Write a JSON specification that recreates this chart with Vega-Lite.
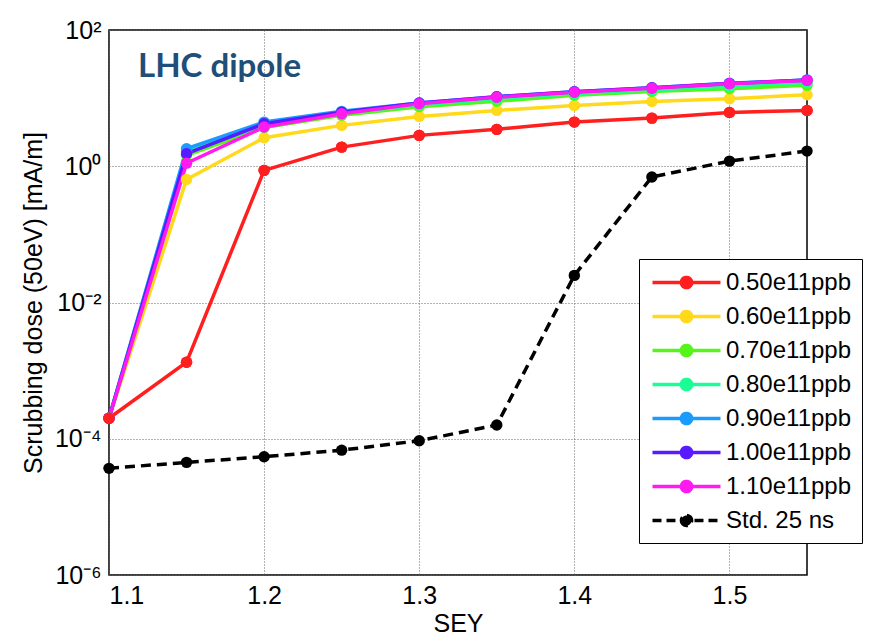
{
  "$schema": "https://vega.github.io/schema/vega-lite/v6.json",
  "width": 698,
  "height": 545,
  "autosize": {"type": "none"},
  "padding": {"left": 109, "top": 30, "right": 80, "bottom": 63},
  "background": "white",
  "title": {
    "text": "LHC dipole",
    "anchor": "start",
    "frame": "group",
    "orient": "top",
    "offset": 0,
    "baseline": "alphabetic",
    "dx": 29,
    "dy": 92,
    "font": "Lato",
    "fontSize": 33,
    "fontWeight": "bold",
    "color": "#1f4e79"
  },
  "config": {
    "view": {"stroke": "black", "strokeWidth": 1.5},
    "axis": {
      "labelFont": "Liberation Sans",
      "titleFont": "Liberation Sans",
      "labelFontSize": 25,
      "titleFontSize": 25,
      "titleFontWeight": "normal",
      "labelColor": "black",
      "titleColor": "black",
      "gridColor": "#666666",
      "gridDash": [1, 2],
      "gridWidth": 1,
      "domain": false,
      "tickColor": "black",
      "tickSize": 0
    },
    "legend": {
      "labelFont": "Liberation Sans",
      "labelFontSize": 24,
      "labelColor": "black"
    }
  },
  "data": {
    "values": [
      {"series": "0.50e11ppb", "sey": 1.10, "dose": 0.0002},
      {"series": "0.50e11ppb", "sey": 1.15, "dose": 0.00133},
      {"series": "0.50e11ppb", "sey": 1.20, "dose": 0.87},
      {"series": "0.50e11ppb", "sey": 1.25, "dose": 1.91},
      {"series": "0.50e11ppb", "sey": 1.30, "dose": 2.84},
      {"series": "0.50e11ppb", "sey": 1.35, "dose": 3.48},
      {"series": "0.50e11ppb", "sey": 1.40, "dose": 4.45},
      {"series": "0.50e11ppb", "sey": 1.45, "dose": 5.09},
      {"series": "0.50e11ppb", "sey": 1.50, "dose": 6.17},
      {"series": "0.50e11ppb", "sey": 1.55, "dose": 6.6},
      {"series": "0.60e11ppb", "sey": 1.10, "dose": 0.0002},
      {"series": "0.60e11ppb", "sey": 1.15, "dose": 0.64},
      {"series": "0.60e11ppb", "sey": 1.20, "dose": 2.62},
      {"series": "0.60e11ppb", "sey": 1.25, "dose": 3.98},
      {"series": "0.60e11ppb", "sey": 1.30, "dose": 5.39},
      {"series": "0.60e11ppb", "sey": 1.35, "dose": 6.6},
      {"series": "0.60e11ppb", "sey": 1.40, "dose": 7.8},
      {"series": "0.60e11ppb", "sey": 1.45, "dose": 8.95},
      {"series": "0.60e11ppb", "sey": 1.50, "dose": 9.8},
      {"series": "0.60e11ppb", "sey": 1.55, "dose": 11.2},
      {"series": "0.70e11ppb", "sey": 1.10, "dose": 0.0002},
      {"series": "0.70e11ppb", "sey": 1.15, "dose": 1.45},
      {"series": "0.70e11ppb", "sey": 1.20, "dose": 3.7},
      {"series": "0.70e11ppb", "sey": 1.25, "dose": 5.6},
      {"series": "0.70e11ppb", "sey": 1.30, "dose": 7.5},
      {"series": "0.70e11ppb", "sey": 1.35, "dose": 9.0},
      {"series": "0.70e11ppb", "sey": 1.40, "dose": 11.0},
      {"series": "0.70e11ppb", "sey": 1.45, "dose": 12.5},
      {"series": "0.70e11ppb", "sey": 1.50, "dose": 13.7},
      {"series": "0.70e11ppb", "sey": 1.55, "dose": 15.4},
      {"series": "0.80e11ppb", "sey": 1.10, "dose": 0.0002},
      {"series": "0.80e11ppb", "sey": 1.15, "dose": 1.65},
      {"series": "0.80e11ppb", "sey": 1.20, "dose": 4.0},
      {"series": "0.80e11ppb", "sey": 1.25, "dose": 6.0},
      {"series": "0.80e11ppb", "sey": 1.30, "dose": 8.0},
      {"series": "0.80e11ppb", "sey": 1.35, "dose": 9.8},
      {"series": "0.80e11ppb", "sey": 1.40, "dose": 11.7},
      {"series": "0.80e11ppb", "sey": 1.45, "dose": 13.3},
      {"series": "0.80e11ppb", "sey": 1.50, "dose": 15.0},
      {"series": "0.80e11ppb", "sey": 1.55, "dose": 17.0},
      {"series": "0.90e11ppb", "sey": 1.10, "dose": 0.0002},
      {"series": "0.90e11ppb", "sey": 1.15, "dose": 1.81},
      {"series": "0.90e11ppb", "sey": 1.20, "dose": 4.45},
      {"series": "0.90e11ppb", "sey": 1.25, "dose": 6.4},
      {"series": "0.90e11ppb", "sey": 1.30, "dose": 8.5},
      {"series": "0.90e11ppb", "sey": 1.35, "dose": 10.5},
      {"series": "0.90e11ppb", "sey": 1.40, "dose": 12.4},
      {"series": "0.90e11ppb", "sey": 1.45, "dose": 14.2},
      {"series": "0.90e11ppb", "sey": 1.50, "dose": 16.5},
      {"series": "0.90e11ppb", "sey": 1.55, "dose": 18.5},
      {"series": "1.00e11ppb", "sey": 1.10, "dose": 0.0002},
      {"series": "1.00e11ppb", "sey": 1.15, "dose": 1.53},
      {"series": "1.00e11ppb", "sey": 1.20, "dose": 4.2},
      {"series": "1.00e11ppb", "sey": 1.25, "dose": 6.2},
      {"series": "1.00e11ppb", "sey": 1.30, "dose": 8.5},
      {"series": "1.00e11ppb", "sey": 1.35, "dose": 10.5},
      {"series": "1.00e11ppb", "sey": 1.40, "dose": 12.4},
      {"series": "1.00e11ppb", "sey": 1.45, "dose": 14.2},
      {"series": "1.00e11ppb", "sey": 1.50, "dose": 16.4},
      {"series": "1.00e11ppb", "sey": 1.55, "dose": 18.4},
      {"series": "1.10e11ppb", "sey": 1.10, "dose": 0.0002},
      {"series": "1.10e11ppb", "sey": 1.15, "dose": 1.11},
      {"series": "1.10e11ppb", "sey": 1.20, "dose": 3.76},
      {"series": "1.10e11ppb", "sey": 1.25, "dose": 5.9},
      {"series": "1.10e11ppb", "sey": 1.30, "dose": 8.3},
      {"series": "1.10e11ppb", "sey": 1.35, "dose": 10.3},
      {"series": "1.10e11ppb", "sey": 1.40, "dose": 12.2},
      {"series": "1.10e11ppb", "sey": 1.45, "dose": 14.0},
      {"series": "1.10e11ppb", "sey": 1.50, "dose": 16.3},
      {"series": "1.10e11ppb", "sey": 1.55, "dose": 18.2},
      {"series": "Std. 25 ns", "sey": 1.10, "dose": 0.0000368},
      {"series": "Std. 25 ns", "sey": 1.15, "dose": 0.000045},
      {"series": "Std. 25 ns", "sey": 1.20, "dose": 0.0000545},
      {"series": "Std. 25 ns", "sey": 1.25, "dose": 0.000068},
      {"series": "Std. 25 ns", "sey": 1.30, "dose": 0.0000935},
      {"series": "Std. 25 ns", "sey": 1.35, "dose": 0.000159},
      {"series": "Std. 25 ns", "sey": 1.40, "dose": 0.025},
      {"series": "Std. 25 ns", "sey": 1.45, "dose": 0.695},
      {"series": "Std. 25 ns", "sey": 1.50, "dose": 1.19},
      {"series": "Std. 25 ns", "sey": 1.55, "dose": 1.67}
    ]
  },
  "encoding": {
    "x": {
      "field": "sey",
      "type": "quantitative",
      "scale": {"domain": [1.1, 1.55], "nice": false, "zero": false},
      "axis": {"values": [1.1, 1.2, 1.3, 1.4, 1.5], "format": ".1f", "title": "SEY", "labelPadding": 8, "titlePadding": 3}
    },
    "y": {
      "field": "dose",
      "type": "quantitative",
      "scale": {"type": "log", "domain": [0.000001, 100], "nice": false},
      "axis": {
        "values": [0.000001, 0.0001, 0.01, 1, 100],
        "labelExpr": "datum.value > 10 ? '10²' : datum.value > 0.1 ? '10⁰' : datum.value > 0.001 ? '10⁻²' : datum.value > 0.00001 ? '10⁻⁴' : '10⁻⁶'",
        "title": "Scrubbing dose (50eV) [mA/m]",
        "labelPadding": 8,
        "titlePadding": 8
      }
    },
    "color": {
      "field": "series",
      "type": "nominal",
      "scale": {
        "domain": ["0.50e11ppb", "0.60e11ppb", "0.70e11ppb", "0.80e11ppb", "0.90e11ppb", "1.00e11ppb", "1.10e11ppb", "Std. 25 ns"],
        "range": ["#ff1f1f", "#ffd91a", "#55f51a", "#1aff95", "#1a9cff", "#5a1aff", "#ff1aef", "#000000"]
      },
      "legend": {
        "title": null,
        "orient": "none",
        "legendX": 530,
        "legendY": 229,
        "padding": 10,
        "fillColor": "white",
        "strokeColor": "black",
        "symbolType": "M-3,0L3,0M-0.45,0A0.45,0.45,0,1,0,0.45,0A0.45,0.45,0,1,0,-0.45,0Z",
        "symbolSize": 514,
        "symbolStrokeWidth": 3.5,
        "symbolOffset": 24,
        "labelOffset": 26,
        "rowPadding": 8,
        "encode": {
          "legend": {
            "update": {
              "stroke": {"value": "black"},
              "strokeWidth": {"value": 1},
              "fill": {"value": "white"}
            }
          },
          "symbols": {
            "update": {
              "fill": {"scale": "color", "field": "value"},
              "stroke": {"scale": "color", "field": "value"},
              "strokeDash": {"signal": "datum.value === 'Std. 25 ns' ? [9, 5] : [1, 0]"}
            }
          }
        }
      }
    }
  },
  "layer": [
    {
      "transform": [{"filter": "datum.series !== 'Std. 25 ns'"}],
      "mark": {"type": "line", "strokeWidth": 3.5}
    },
    {
      "transform": [{"filter": "datum.series === 'Std. 25 ns'"}],
      "mark": {"type": "line", "strokeWidth": 3.5, "strokeDash": [10, 6]}
    },
    {
      "mark": {"type": "point", "filled": true, "size": 130, "opacity": 1}
    },
    {
      "transform": [{"filter": "datum.series === '0.50e11ppb'"}],
      "mark": {"type": "point", "filled": true, "size": 130, "opacity": 1}
    }
  ]
}
